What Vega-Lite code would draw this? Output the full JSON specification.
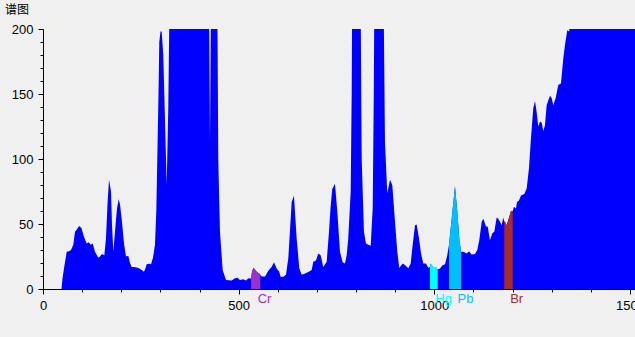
{
  "$schema": "https://vega.github.io/schema/vega-lite/v6.json",
  "width": 592,
  "height": 260,
  "autosize": "none",
  "padding": {"left": 43, "top": 29, "right": 0, "bottom": 48},
  "background": "#f0f0f0",
  "title": {"text": "谱图", "anchor": "start", "frame": "group", "orient": "top", "dx": -38, "offset": 6, "font": "Noto Sans CJK SC", "fontSize": 12, "fontWeight": "normal", "color": "#000000"},
  "config": {"view": {"stroke": null},
    "axis": {"grid": false, "domainColor": "#000000", "tickColor": "#000000", "labelPadding": 5, "labelFont": "Liberation Sans", "labelFontSize": 13, "labelColor": "#000000", "labelOverlap": false, "labelFlush": false}},
  "data": {"values": [
    {"x": 47.3, "y": 0}, {"x": 49.8, "y": 8}, {"x": 53.7, "y": 16}, {"x": 60.6, "y": 28.7}, {"x": 66.4, "y": 29}, {"x": 71.6, "y": 30},
    {"x": 77.4, "y": 34}, {"x": 81.8, "y": 44}, {"x": 86.9, "y": 46}, {"x": 92.0, "y": 48.5}, {"x": 98.4, "y": 47}, {"x": 104.8, "y": 40},
    {"x": 111.7, "y": 35}, {"x": 116.8, "y": 36}, {"x": 121.9, "y": 34}, {"x": 127.0, "y": 35}, {"x": 132.9, "y": 28.7}, {"x": 141.3, "y": 24},
    {"x": 145.7, "y": 25}, {"x": 150.8, "y": 27}, {"x": 156.7, "y": 26}, {"x": 161.0, "y": 39}, {"x": 164.8, "y": 65}, {"x": 168.7, "y": 84},
    {"x": 173.8, "y": 75}, {"x": 176.3, "y": 50}, {"x": 179.7, "y": 28.7}, {"x": 184.0, "y": 44}, {"x": 189.1, "y": 62}, {"x": 193.5, "y": 69},
    {"x": 196.8, "y": 65}, {"x": 201.1, "y": 54}, {"x": 207.0, "y": 35}, {"x": 212.1, "y": 25}, {"x": 218.0, "y": 25.5}, {"x": 222.3, "y": 20},
    {"x": 226.7, "y": 17}, {"x": 232.6, "y": 17}, {"x": 239.5, "y": 16.5}, {"x": 245.3, "y": 16}, {"x": 252.2, "y": 14.6}, {"x": 258.1, "y": 13.3},
    {"x": 261.9, "y": 16}, {"x": 265.0, "y": 19}, {"x": 270.9, "y": 19.5}, {"x": 276.0, "y": 19}, {"x": 281.1, "y": 24}, {"x": 286.2, "y": 34},
    {"x": 289.6, "y": 60}, {"x": 292.1, "y": 100}, {"x": 295.2, "y": 150}, {"x": 297.2, "y": 190}, {"x": 300.3, "y": 198}, {"x": 303.3, "y": 198},
    {"x": 307.4, "y": 180}, {"x": 311.8, "y": 130}, {"x": 316.1, "y": 80}, {"x": 320.2, "y": 140}, {"x": 326.4, "y": 300}, {"x": 422.4, "y": 300},
    {"x": 426.8, "y": 113}, {"x": 431.1, "y": 300}, {"x": 443.9, "y": 300}, {"x": 448.0, "y": 100}, {"x": 452.3, "y": 44}, {"x": 459.2, "y": 14.6},
    {"x": 467.7, "y": 7}, {"x": 482.2, "y": 6.5}, {"x": 490.7, "y": 8.2}, {"x": 497.1, "y": 8.7}, {"x": 503.5, "y": 7}, {"x": 511.9, "y": 7.5},
    {"x": 518.8, "y": 6.5}, {"x": 524.7, "y": 8.2}, {"x": 530.3, "y": 8},
    {"x": 531.6, "y": 8, "el": "Cr"}, {"x": 534.1, "y": 13, "el": "Cr"}, {"x": 537.5, "y": 16.4, "el": "Cr"}, {"x": 541.8, "y": 15, "el": "Cr"},
    {"x": 546.2, "y": 13.3, "el": "Cr"}, {"x": 549.5, "y": 12.5, "el": "Cr"}, {"x": 552.8, "y": 12, "el": "Cr"}, {"x": 555.4, "y": 11, "el": "Cr"},
    {"x": 559.0, "y": 9.7}, {"x": 567.4, "y": 9.7}, {"x": 575.9, "y": 14}, {"x": 584.6, "y": 17.2}, {"x": 590.3, "y": 20.5}, {"x": 597.2, "y": 15.7},
    {"x": 603.9, "y": 13.3}, {"x": 607.0, "y": 9.5}, {"x": 614.1, "y": 9.5}, {"x": 621.0, "y": 11}, {"x": 626.9, "y": 23.6}, {"x": 631.2, "y": 45},
    {"x": 635.6, "y": 67}, {"x": 641.4, "y": 71.8}, {"x": 648.3, "y": 39}, {"x": 655.0, "y": 16}, {"x": 661.1, "y": 11}, {"x": 669.6, "y": 12},
    {"x": 678.0, "y": 13}, {"x": 686.7, "y": 14.6}, {"x": 690.8, "y": 21}, {"x": 697.7, "y": 22}, {"x": 703.6, "y": 27.4}, {"x": 709.7, "y": 26},
    {"x": 716.3, "y": 17}, {"x": 725.0, "y": 21}, {"x": 730.9, "y": 44}, {"x": 734.7, "y": 62}, {"x": 739.3, "y": 77}, {"x": 746.2, "y": 81},
    {"x": 752.1, "y": 60}, {"x": 759.0, "y": 28.7}, {"x": 765.9, "y": 20.5}, {"x": 771.8, "y": 19.7}, {"x": 776.1, "y": 26}, {"x": 780.2, "y": 39},
    {"x": 786.4, "y": 75}, {"x": 788.9, "y": 150}, {"x": 791.5, "y": 300}, {"x": 810.1, "y": 300}, {"x": 814.5, "y": 100}, {"x": 820.3, "y": 44},
    {"x": 825.4, "y": 35}, {"x": 831.3, "y": 34}, {"x": 837.5, "y": 33.3}, {"x": 842.6, "y": 62}, {"x": 845.4, "y": 150}, {"x": 848.4, "y": 300},
    {"x": 868.1, "y": 300}, {"x": 874.0, "y": 113}, {"x": 879.9, "y": 73.6}, {"x": 886.8, "y": 84}, {"x": 892.7, "y": 80}, {"x": 899.6, "y": 52},
    {"x": 905.4, "y": 29}, {"x": 910.6, "y": 16}, {"x": 912.3, "y": 17}, {"x": 919.2, "y": 19.7}, {"x": 925.1, "y": 18.5}, {"x": 933.5, "y": 16},
    {"x": 939.7, "y": 19.7}, {"x": 944.8, "y": 34}, {"x": 950.7, "y": 49}, {"x": 955.0, "y": 49.7}, {"x": 960.9, "y": 39}, {"x": 966.0, "y": 27.6},
    {"x": 971.9, "y": 19.7}, {"x": 978.8, "y": 19.7}, {"x": 984.7, "y": 16.4},
    {"x": 989.0, "y": 17, "el": "Hg"}, {"x": 990.8, "y": 19.7, "el": "Hg"}, {"x": 994.1, "y": 18, "el": "Hg"}, {"x": 997.5, "y": 17, "el": "Hg"},
    {"x": 1004.4, "y": 17, "el": "Hg"}, {"x": 1008.7, "y": 15, "el": "Hg"},
    {"x": 1014.6, "y": 15.7}, {"x": 1020.5, "y": 18}, {"x": 1027.4, "y": 19}, {"x": 1033.2, "y": 26},
    {"x": 1037.6, "y": 34, "el": "Pb"}, {"x": 1044.5, "y": 54, "el": "Pb"}, {"x": 1052.9, "y": 79, "el": "Pb"}, {"x": 1058.8, "y": 60, "el": "Pb"},
    {"x": 1063.9, "y": 39, "el": "Pb"}, {"x": 1068.3, "y": 28.7, "el": "Pb"},
    {"x": 1074.1, "y": 28.7}, {"x": 1082.8, "y": 27.4}, {"x": 1088.7, "y": 29}, {"x": 1095.6, "y": 26.5}, {"x": 1104.0, "y": 27}, {"x": 1109.9, "y": 30},
    {"x": 1115.0, "y": 37.5}, {"x": 1121.2, "y": 51.8}, {"x": 1125.3, "y": 54}, {"x": 1132.2, "y": 48}, {"x": 1136.5, "y": 48}, {"x": 1142.4, "y": 37.5},
    {"x": 1148.3, "y": 42.8}, {"x": 1153.4, "y": 44}, {"x": 1159.5, "y": 55}, {"x": 1163.6, "y": 54}, {"x": 1167.9, "y": 51.8}, {"x": 1172.3, "y": 49},
    {"x": 1176.3, "y": 55},
    {"x": 1178.9, "y": 52, "el": "Br"}, {"x": 1180.7, "y": 51.8, "el": "Br"}, {"x": 1185.0, "y": 49, "el": "Br"}, {"x": 1191.7, "y": 55.5, "el": "Br"},
    {"x": 1196.0, "y": 60, "el": "Br"}, {"x": 1200.4, "y": 60, "el": "Br"},
    {"x": 1203.7, "y": 63.3}, {"x": 1208.8, "y": 62}, {"x": 1211.4, "y": 67}, {"x": 1216.5, "y": 68}, {"x": 1221.6, "y": 72}, {"x": 1230.0, "y": 73},
    {"x": 1236.2, "y": 77.4}, {"x": 1242.0, "y": 92.8}, {"x": 1247.1, "y": 116}, {"x": 1253.0, "y": 139}, {"x": 1257.4, "y": 144.6}, {"x": 1261.7, "y": 136},
    {"x": 1265.8, "y": 125}, {"x": 1270.1, "y": 128.7}, {"x": 1274.5, "y": 128}, {"x": 1278.6, "y": 121.5}, {"x": 1282.9, "y": 126}, {"x": 1287.3, "y": 141.5},
    {"x": 1295.7, "y": 148.7}, {"x": 1300.0, "y": 147}, {"x": 1304.1, "y": 141.5}, {"x": 1310.3, "y": 147}, {"x": 1316.9, "y": 157}, {"x": 1323.8, "y": 158},
    {"x": 1329.7, "y": 177.4}, {"x": 1334.0, "y": 187.7}, {"x": 1339.9, "y": 199}, {"x": 1345.0, "y": 198}, {"x": 1349.4, "y": 300}, {"x": 1513, "y": 300}
  ]},
  "encoding": {
    "x": {"field": "x", "type": "quantitative", "scale": {"domain": [0, 1513], "nice": false},
      "axis": {"title": null, "format": "d", "values": [0,100,200,300,400,500,600,700,800,900,1000,1100,1200,1300,1400,1500],
        "labelExpr": "datum.value % 500 === 0 ? datum.label : ''", "labelBound": false,
        "tickSize": {"condition": {"test": "datum.value % 500 === 0", "value": 5}, "value": 3}}}
  },
  "layer": [
    {"mark": {"type": "area", "color": "#0000ff", "clip": true},
     "encoding": {
      "y": {"field": "y", "type": "quantitative", "stack": null, "scale": {"domain": [0, 200], "nice": false},
        "axis": {"title": null, "values": [0,10,20,30,40,50,60,70,80,90,100,110,120,130,140,150,160,170,180,190,200],
          "labelExpr": "datum.value % 50 === 0 ? datum.label : ''",
          "tickSize": {"condition": {"test": "datum.value % 50 === 0", "value": 5}, "value": 3}}}}},
    {"transform": [{"filter": "isValid(datum.el)"}],
     "mark": {"type": "area", "clip": true, "opacity": 1},
     "encoding": {
       "y": {"field": "y", "type": "quantitative", "stack": null, "scale": {"domain": [0, 200], "nice": false},
        "axis": {"title": null, "values": [0,10,20,30,40,50,60,70,80,90,100,110,120,130,140,150,160,170,180,190,200],
          "labelExpr": "datum.value % 50 === 0 ? datum.label : ''",
          "tickSize": {"condition": {"test": "datum.value % 50 === 0", "value": 5}, "value": 3}}},
       "color": {"field": "el", "type": "nominal", "legend": null,
         "scale": {"domain": ["Cr", "Hg", "Pb", "Br"], "range": ["#9932cc", "#00ffff", "#00bfff", "#a52a2a"]}}}},
    {"transform": [{"filter": "isValid(datum.el)"}, {"aggregate": [{"op": "mean", "field": "x", "as": "mx"}], "groupby": ["el"]}],
     "mark": {"type": "text", "align": "left", "baseline": "alphabetic", "dx": 2, "dy": 14, "font": "Liberation Sans", "fontSize": 13},
     "encoding": {
       "x": {"field": "mx", "type": "quantitative"},
       "y": {"datum": 0, "type": "quantitative",
        "axis": {"title": null, "values": [0,10,20,30,40,50,60,70,80,90,100,110,120,130,140,150,160,170,180,190,200],
          "labelExpr": "datum.value % 50 === 0 ? datum.label : ''",
          "tickSize": {"condition": {"test": "datum.value % 50 === 0", "value": 5}, "value": 3}}},
       "text": {"field": "el", "type": "nominal"},
       "color": {"field": "el", "type": "nominal", "legend": null,
         "scale": {"domain": ["Cr", "Hg", "Pb", "Br"], "range": ["#9932cc", "#00ffff", "#00bfff", "#a52a2a"]}}}}
  ]
}
